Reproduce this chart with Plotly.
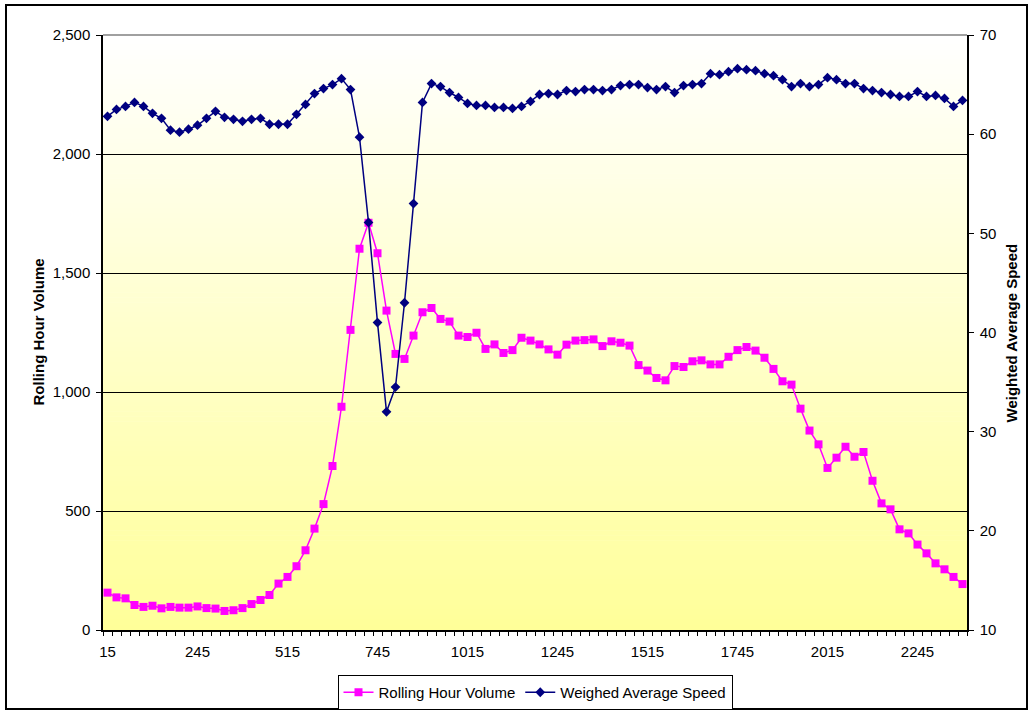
import plotly.graph_objects as go

# 15-minute time-of-day labels written as HHMM without leading zeros (15, 30, 45, 100, ... 2400)
times = [str((m // 60) * 100 + m % 60) for m in range(15, 24 * 60 + 1, 15)]

rolling_hour_volume = [
    157, 137, 133, 105, 97, 102, 91, 97, 94, 94,
    99, 92, 90, 80, 83, 92, 109, 126, 147, 195,
    223, 268, 335, 426, 529, 689, 938, 1261, 1602, 1711,
    1583, 1342, 1160, 1139, 1237, 1335, 1353, 1307, 1296, 1237,
    1231, 1249, 1181, 1200, 1164, 1176, 1228, 1216, 1200, 1179,
    1157, 1199, 1216, 1218, 1221, 1193, 1213, 1207, 1195, 1113,
    1090, 1059, 1049, 1109, 1105, 1129, 1133, 1116, 1116, 1148,
    1176, 1189, 1174, 1144, 1097, 1045, 1031, 930, 838, 780,
    681, 724, 770, 728, 748, 627, 532, 507, 423, 406,
    359, 322, 280, 255, 223, 193,
]

weighed_average_speed = [
    61.8, 62.5, 62.8, 63.2, 62.8, 62.1, 61.6, 60.4, 60.2, 60.5,
    60.9, 61.6, 62.3, 61.7, 61.5, 61.3, 61.5, 61.6, 61.0, 61.0,
    61.0, 62.0, 63.0, 64.1, 64.6, 65.0, 65.6, 64.5, 59.7, 51.1,
    41.0, 32.0, 34.5, 43.0, 53.0, 63.2, 65.1, 64.8, 64.2, 63.7,
    63.1, 62.9, 62.9, 62.7, 62.7, 62.6, 62.8, 63.3, 64.0, 64.1,
    64.0, 64.4, 64.3, 64.5, 64.5, 64.4, 64.5, 64.9, 65.0, 65.0,
    64.7, 64.5, 64.8, 64.2, 64.9, 65.0, 65.1, 66.1, 66.0, 66.3,
    66.6, 66.5, 66.4, 66.1, 65.9, 65.5, 64.8, 65.1, 64.8, 65.0,
    65.7, 65.5, 65.1, 65.1, 64.6, 64.4, 64.2, 64.0, 63.8, 63.8,
    64.3, 63.8, 63.9, 63.6, 62.8, 63.4,
]

label_every = 10
tick_text = [t if i % label_every == 0 else "" for i, t in enumerate(times)]

FONT = "Arial, 'Liberation Sans', sans-serif"
FS = 15
W, H = 1033, 713
L, R, T, B = 103, 66, 35, 83
pw, ph = W - L - R, H - T - B


def px_x(x):
    return (x - L) / pw


def px_y(y):
    return (H - B - y) / ph


fig = go.Figure()

fig.add_trace(go.Scatter(
    x=times, y=rolling_hour_volume, name="Rolling Hour Volume",
    mode="lines+markers",
    line=dict(color="#FF00FF", width=1.5),
    marker=dict(symbol="square", size=8, color="#FF00FF"),
    xaxis="x", yaxis="y",
))
fig.add_trace(go.Scatter(
    x=times, y=weighed_average_speed, name="Weighed Average Speed",
    mode="lines+markers",
    line=dict(color="#000080", width=1.5),
    marker=dict(symbol="diamond", size=7.5, color="#000080"),
    xaxis="x", yaxis="y2",
))

# vertical white-to-yellow fill behind the plot area
shapes = []
n_strips = 120
top_rgb = (255, 255, 255)
bot_rgb = (255, 255, 153)
for k in range(n_strips):
    f = (k + 0.5) / n_strips  # 0 at top, 1 at bottom
    c = tuple(round(top_rgb[j] + (bot_rgb[j] - top_rgb[j]) * f) for j in range(3))
    shapes.append(dict(
        type="rect", xref="paper", yref="paper", layer="below",
        x0=0, x1=1, y0=1 - (k + 1) / n_strips, y1=1 - k / n_strips + 0.001,
        line=dict(width=0), fillcolor="rgb(%d,%d,%d)" % c,
    ))
# grey top edge of the plot area
shapes.append(dict(type="line", xref="paper", yref="paper", layer="above",
                   x0=0, x1=1, y0=1, y1=1, line=dict(color="#808080", width=1.5)))
# outer chart frame
shapes.append(dict(type="rect", xref="paper", yref="paper", layer="above",
                   x0=px_x(6), x1=px_x(1027), y0=px_y(709), y1=px_y(5),
                   line=dict(color="black", width=2), fillcolor="rgba(0,0,0,0)"))

tick_font = dict(family=FONT, size=FS, color="black")

fig.update_layout(
    width=W, height=H,
    margin=dict(l=L, r=R, t=T, b=B, autoexpand=False),
    paper_bgcolor="white",
    plot_bgcolor="rgba(0,0,0,0)",
    shapes=shapes,
    showlegend=True,
    legend=dict(
        orientation="h", x=0.5, xanchor="center", y=px_y(675), yanchor="top",
        bgcolor="white", bordercolor="black", borderwidth=1,
        font=dict(family=FONT, size=FS, color="black"),
        itemwidth=30, tracegroupgap=0,
    ),
    xaxis=dict(
        type="category", categoryorder="array", categoryarray=times,
        range=[-0.5, len(times) - 0.5],
        tickmode="array", tickvals=times, ticktext=tick_text,
        tickson="boundaries", ticks="outside", ticklen=4, tickcolor="black", tickwidth=1,
        ticklabelstandoff=7,
        showline=True, linecolor="black", linewidth=1.5, mirror=False,
        showgrid=False, zeroline=False,
        tickfont=tick_font, tickangle=0,
    ),
    xaxis3=dict(
        type="category", categoryorder="array", categoryarray=times,
        range=[-0.5, len(times) - 0.5], overlaying="x", anchor="y",
        tickmode="array", tickvals=times, ticktext=[""] * len(times),
        tickson="boundaries", ticks="inside", ticklen=4, tickcolor="black", tickwidth=1,
        showline=False, showgrid=False, zeroline=False, showticklabels=False,
    ),
    yaxis=dict(
        range=[0, 2500], tickmode="linear", tick0=0, dtick=500,
        tickformat=",d", ticks="outside", ticklen=5, tickcolor="black",
        showline=True, linecolor="black", linewidth=1.5,
        showgrid=True, gridcolor="black", gridwidth=1, zeroline=False,
        tickfont=tick_font, ticklabelstandoff=3,
    ),
    yaxis2=dict(
        range=[10, 70], tickmode="linear", tick0=10, dtick=10,
        overlaying="y", side="right", anchor="x",
        ticks="outside", ticklen=5, tickcolor="black",
        showline=True, linecolor="black", linewidth=1.5,
        showgrid=False, zeroline=False,
        tickfont=tick_font, ticklabelstandoff=3,
    ),
    yaxis3=dict(
        range=[10, 70], tickmode="linear", tick0=10, dtick=10,
        overlaying="y", side="right", anchor="x",
        ticks="inside", ticklen=4, tickcolor="black",
        showline=False, showgrid=False, zeroline=False, showticklabels=False,
    ),
    annotations=[
        dict(text="<b>Rolling Hour Volume</b>", xref="paper", yref="paper",
             x=px_x(38), y=0.5, xanchor="center", yanchor="middle",
             textangle=-90, showarrow=False,
             font=dict(family=FONT, size=FS, color="black")),
        dict(text="<b>Weighted Average Speed</b>", xref="paper", yref="paper",
             x=px_x(1011), y=0.5, xanchor="center", yanchor="middle",
             textangle=-90, showarrow=False,
             font=dict(family=FONT, size=FS, color="black")),
    ],
)

fig.write_html("out.html")
